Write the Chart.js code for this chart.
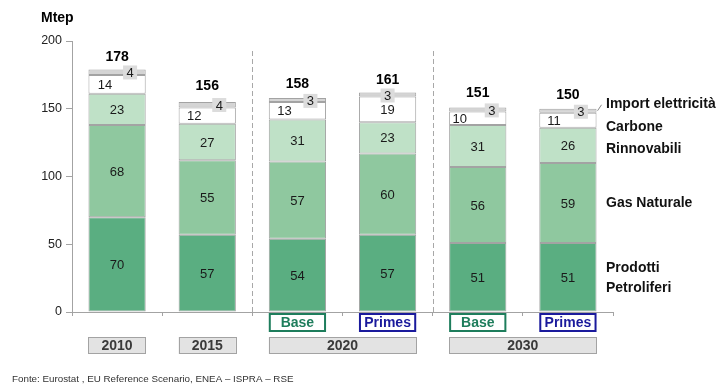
<!DOCTYPE html>
<html>
<head>
<meta charset="utf-8">
<script src="https://cdn.jsdelivr.net/npm/chart.js@4.4.1/dist/chart.umd.min.js"></script>
<style>
  html, body { margin: 0; padding: 0; background: #fff; }
  #wrap { width: 718px; height: 385px; position: relative; }
</style>
</head>
<body>
<div id="wrap"><canvas id="myChart" width="718" height="385"></canvas></div>
<script>
'use strict';

// bars: 2010, 2015, 2020 Base, 2020 Primes, 2030 Base, 2030 Primes
let barLabels = ['2010', '2015', '2020 Base', '2020 Primes', '2030 Base', '2030 Primes'];
let scenarios = ['', '', 'Base', 'Primes', 'Base', 'Primes'];
let petroliferi = [70, 57, 54, 57, 51, 51];
let gasNaturale = [68, 55, 57, 60, 56, 59];
let rinnovabili = [23, 27, 31, 23, 31, 26];
let carbone = [14, 12, 13, 19, 10, 11];
let importEl = [4, 4, 3, 3, 3, 3];
let totals = [178, 156, 158, 161, 151, 150];
let yTicks = [0, 50, 100, 150, 200];
// year groups: label, first bar index, last bar index
let yearGroups = [['2010', 0, 0], ['2015', 1, 1], ['2020', 2, 3], ['2030', 4, 5]];
let seriesNames = ['Prodotti Petroliferi', 'Gas Naturale', 'Rinnovabili', 'Carbone', 'Import elettricità'];

const FONT = '"Liberation Sans", Arial, sans-serif';
const EDGE = '#a3a3a3';

// small horizontal nudges for the carbone / import labels
let carboneShift = [-12, -13, -13, 0, -18, -14];
let importShift = [13, 12, 13, 0, 14, 13];

let overlay = {
    id: 'overlay',
    afterDatasetsDraw(chart) {
        let ctx = chart.ctx;
        let x = chart.scales.x;
        let y = chart.scales.y;
        let area = chart.chartArea;
        let metaTop = chart.getDatasetMeta(4);

        ctx.save();
        ctx.textAlign = 'center';
        ctx.textBaseline = 'middle';

        // values inside the segments
        ctx.font = '13px ' + FONT;
        ctx.fillStyle = '#1a1a1a';
        for (let d = 0; d < 4; d++) {
            let meta = chart.getDatasetMeta(d);
            let vals = chart.data.datasets[d].data;
            meta.data.forEach(function (bar, i) {
                let cy = (bar.y + bar.base) / 2;
                let cx = bar.x + (d === 3 ? carboneShift[i] : 0);
                ctx.fillText(String(vals[i]), cx, cy + 1);
            });
        }

        // import labels in small grey boxes
        metaTop.data.forEach(function (bar, i) {
            let cx = bar.x + importShift[i];
            let cy = bar.y + 3;
            ctx.fillStyle = '#dcdcdc';
            ctx.fillRect(cx - 7, cy - 7, 14, 14);
            ctx.fillStyle = '#1a1a1a';
            ctx.fillText(String(importEl[i]), cx, cy + 1);
        });

        // totals
        ctx.font = 'bold 14px ' + FONT;
        ctx.fillStyle = '#000';
        metaTop.data.forEach(function (bar, i) {
            ctx.fillText(String(totals[i]), bar.x, y.getPixelForValue(totals[i]) - 14);
        });

        // dashed separators between periods
        ctx.strokeStyle = '#a8a8a8';
        ctx.lineWidth = 1;
        ctx.setLineDash([5, 3]);
        [1.5, 3.5].forEach(function (v) {
            let px = Math.round(x.getPixelForValue(v)) + 0.5;
            ctx.beginPath();
            ctx.moveTo(px, 51);
            ctx.lineTo(px, area.bottom);
            ctx.stroke();
        });
        ctx.setLineDash([]);

        let half = metaTop.data[0].width / 2;

        // scenario boxes
        ctx.font = 'bold 14px ' + FONT;
        scenarios.forEach(function (s, i) {
            if (!s) return;
            let cx = x.getPixelForValue(i);
            let col = s === 'Base' ? '#1e7d5c' : '#1a1a9c';
            ctx.strokeStyle = col;
            ctx.lineWidth = 2;
            ctx.strokeRect(cx - half + 1, 314, half * 2 - 2, 17);
            ctx.fillStyle = col;
            ctx.fillText(s, cx, 323);
        });

        // year boxes
        yearGroups.forEach(function (g) {
            let x0 = x.getPixelForValue(g[1]) - half;
            let x1 = x.getPixelForValue(g[2]) + half;
            ctx.fillStyle = '#e3e3e3';
            ctx.fillRect(x0, 337, x1 - x0, 17);
            ctx.strokeStyle = EDGE;
            ctx.lineWidth = 1;
            ctx.strokeRect(Math.round(x0) + 0.5, 337.5, Math.round(x1 - x0), 16);
            ctx.fillStyle = '#3a3a3a';
            ctx.fillText(g[0], (x0 + x1) / 2, 346);
        });

        // series names on the right
        ctx.textAlign = 'left';
        ctx.fillStyle = '#111';
        let lx = 606;
        let lastBar = metaTop.data[5];
        ctx.fillText('Import elettricità', lx, 104);
        ctx.fillText('Carbone', lx, 127);
        ctx.fillText('Rinnovabili', lx, 149);
        ctx.fillText('Gas Naturale', lx, 203);
        ctx.fillText('Prodotti', lx, 268);
        ctx.fillText('Petroliferi', lx, 288);
        ctx.strokeStyle = '#888';
        ctx.beginPath();
        ctx.moveTo(lastBar.x + half + 1, lastBar.y + 2);
        ctx.lineTo(lastBar.x + half + 5, lastBar.y - 4);
        ctx.stroke();

        // unit and source
        ctx.fillStyle = '#000';
        ctx.fillText('Mtep', 41, 18);
        ctx.font = '9.8px ' + FONT;
        ctx.fillStyle = '#333';
        ctx.fillText('Fonte: Eurostat , EU Reference Scenario, ENEA – ISPRA – RSE', 12, 379);
        ctx.restore();
    }
};

function makeSet(label, data, color) {
    return {
        label: label,
        data: data,
        backgroundColor: color,
        borderColor: EDGE,
        borderWidth: 1,
        borderSkipped: false,
        categoryPercentage: 1,
        barPercentage: 0.635
    };
}

let ctx = document.getElementById('myChart').getContext('2d');
let myChart = new Chart(ctx, {
    type: 'bar',
    data: {
        labels: barLabels,
        datasets: [
            makeSet(seriesNames[0], petroliferi, '#5aae81'),
            makeSet(seriesNames[1], gasNaturale, '#8fc89f'),
            makeSet(seriesNames[2], rinnovabili, '#bfe1c7'),
            makeSet(seriesNames[3], carbone, '#ffffff'),
            makeSet(seriesNames[4], importEl, '#d4d4d4')
        ]
    },
    options: {
        responsive: false,
        animation: false,
        layout: { padding: { left: 0, top: 41, right: 105, bottom: 69 } },
        plugins: { legend: { display: false }, tooltip: { enabled: false } },
        scales: {
            x: {
                stacked: true,
                grid: { offset: true, drawOnChartArea: false, color: EDGE, tickLength: 4 },
                border: { color: EDGE },
                ticks: { display: false }
            },
            y: {
                stacked: true,
                min: 0,
                max: 200,
                afterFit(scale) { scale.width = 72; },
                afterBuildTicks(scale) { scale.ticks = yTicks.map(function (v) { return { value: v }; }); },
                grid: { drawOnChartArea: false, color: EDGE, tickLength: 6 },
                border: { color: EDGE },
                ticks: { color: '#222', font: { family: FONT, size: 12.5 }, padding: 4 }
            }
        }
    },
    plugins: [overlay]
});
</script>
</body>
</html>
